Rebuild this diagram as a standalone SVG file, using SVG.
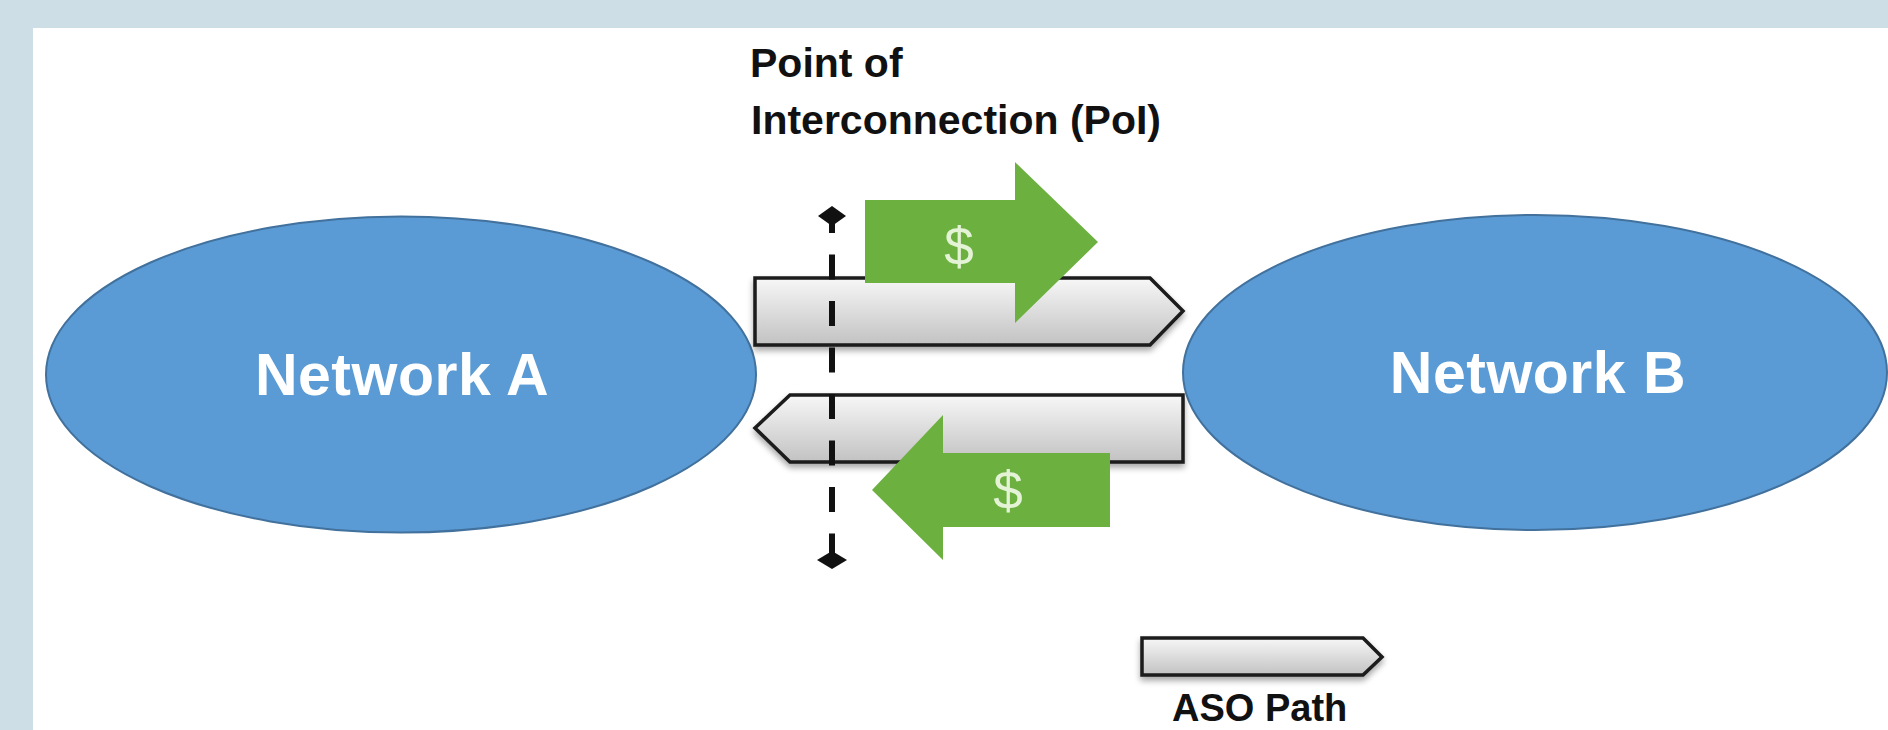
<svg xmlns="http://www.w3.org/2000/svg" width="1888" height="730" viewBox="0 0 1888 730">
  <style>
    .net { fill: #5b9bd5; stroke: #41719c; stroke-width: 2; }
    .netlabel { font-family: "Liberation Sans", Arial, sans-serif; font-weight: bold; font-size: 59px; letter-spacing: 0.5px; fill: #ffffff; text-anchor: middle; }
    .aso { fill: url(#greyGrad); stroke: #1a1a1a; stroke-width: 3.5; stroke-linejoin: miter; filter: url(#shadow); }
    .pay { fill: #6cb040; }
    .dollar { font-family: "Liberation Sans", Arial, sans-serif; font-size: 53px; fill: #e4f3d6; text-anchor: middle; }
    .label { font-family: "Liberation Sans", Arial, sans-serif; font-weight: bold; font-size: 41px; fill: #111111; }
    .poi { stroke: #111111; stroke-width: 6; stroke-dasharray: 25 21.5; fill: none; }
    .diamond { fill: #111111; }
  </style>
  <defs>
    <linearGradient id="greyGrad" x1="0" y1="0" x2="0" y2="1">
      <stop offset="0" stop-color="#f7f7f7"/>
      <stop offset="1" stop-color="#c2c2c2"/>
    </linearGradient>
    <filter id="shadow" x="-5%" y="-20%" width="110%" height="160%">
      <feGaussianBlur in="SourceAlpha" stdDeviation="3"/>
      <feOffset dx="0" dy="4" result="b"/>
      <feComponentTransfer><feFuncA type="linear" slope="0.35"/></feComponentTransfer>
      <feMerge><feMergeNode/><feMergeNode in="SourceGraphic"/></feMerge>
    </filter>
  </defs>

  <rect x="0" y="0" width="1888" height="730" fill="#cddee7"/>
  <rect x="33" y="28" width="1855" height="702" fill="#ffffff"/>

  <g id="networkA">
    <ellipse class="net" cx="401" cy="374.5" rx="355" ry="158"/>
    <text class="netlabel" x="402" y="395">Network A</text>
  </g>

  <g id="networkB">
    <ellipse class="net" cx="1535" cy="372.5" rx="352" ry="157.5"/>
    <text class="netlabel" x="1538" y="393">Network B</text>
  </g>

  <g id="asoPathForward">
    <polygon class="aso" points="755,278 1150,278 1183,311 1150,345 755,345"/>
  </g>

  <g id="paymentForward">
    <polygon class="pay" points="865,200 1015,200 1015,162 1098,242 1015,323 1015,283 865,283"/>
    <text class="dollar" x="959" y="265">$</text>
  </g>

  <g id="asoPathReverse">
    <polygon class="aso" points="1183,395 790,395 755,428 790,462 1183,462"/>
  </g>

  <g id="paymentReverse">
    <polygon class="pay" points="1110,453 943,453 943,415 872,490 943,560 943,527 1110,527"/>
    <text class="dollar" x="1008" y="509">$</text>
  </g>

  <g id="connectors">
    <line class="poi" x1="832" y1="208" x2="832" y2="560"/>
    <polygon class="diamond" points="832,206 846,216 832,226 818,216"/>
    <polygon class="diamond" points="832,551 847,560 832,569 817,560"/>
  </g>

  <g id="poiLabel">
    <text class="label" x="750" y="77">Point of</text>
    <text class="label" x="751" y="134">Interconnection (PoI)</text>
  </g>

  <g id="legend">
    <polygon class="aso" points="1142,638 1363,638 1382,657 1363,675 1142,675"/>
    <text class="label" x="1172" y="721" style="font-size:38px">ASO Path</text>
  </g>
</svg>
